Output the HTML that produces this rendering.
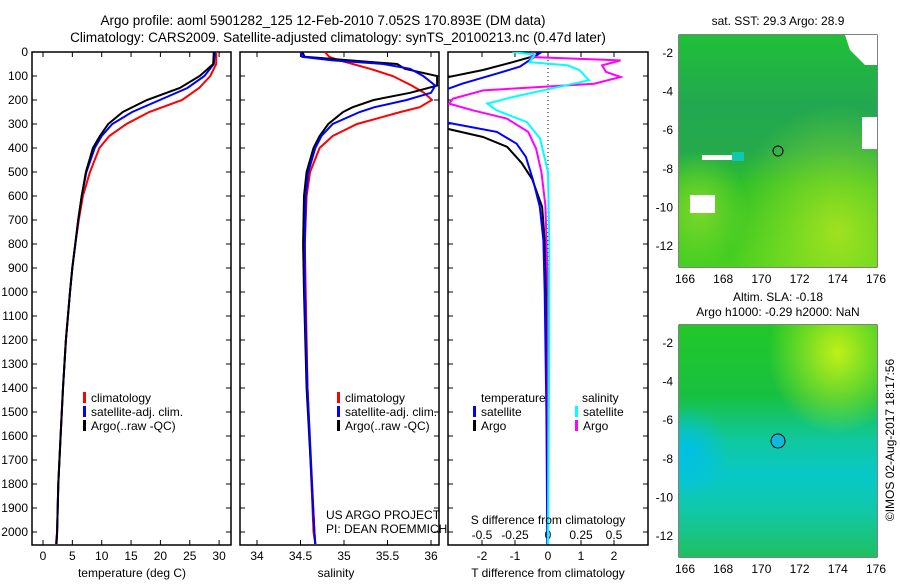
<!DOCTYPE html>
<html><head><meta charset="utf-8"><style>
body{margin:0;background:#fff;}
svg text{font-family:"Liberation Sans",sans-serif;fill:#000;}
</style></head><body>
<svg id="c" width="900" height="580" xmlns="http://www.w3.org/2000/svg">
<defs>
<radialGradient id="g1" cx="0.8" cy="0.85" r="0.55"><stop offset="0" stop-color="#b0e620" stop-opacity="0.85"/><stop offset="1" stop-color="#b0e620" stop-opacity="0"/></radialGradient>
<radialGradient id="g2" cx="0.1" cy="0.75" r="0.25"><stop offset="0" stop-color="#9ee02a" stop-opacity="0.7"/><stop offset="1" stop-color="#9ee02a" stop-opacity="0"/></radialGradient>
<linearGradient id="g3" x1="0" y1="0" x2="0" y2="1"><stop offset="0" stop-color="#20c038"/><stop offset="0.3" stop-color="#22a850"/><stop offset="0.5" stop-color="#24aa4c"/><stop offset="0.65" stop-color="#2cc028"/><stop offset="1" stop-color="#48d020"/></linearGradient>
<linearGradient id="h1" x1="0" y1="0" x2="0" y2="1"><stop offset="0" stop-color="#22c828"/><stop offset="0.3" stop-color="#18c040"/><stop offset="0.5" stop-color="#10c8a0"/><stop offset="0.65" stop-color="#08c8c8"/><stop offset="0.8" stop-color="#10c8a8"/><stop offset="1" stop-color="#20c060"/></linearGradient>
<radialGradient id="h2" cx="0.8" cy="0.12" r="0.35"><stop offset="0" stop-color="#c0f018"/><stop offset="1" stop-color="#c0f018" stop-opacity="0"/></radialGradient>
<radialGradient id="h3" cx="0.05" cy="0.55" r="0.2"><stop offset="0" stop-color="#00c0e8"/><stop offset="1" stop-color="#00c0e8" stop-opacity="0"/></radialGradient>
</defs>
<text x="323" y="25" font-size="13.5" text-anchor="middle">Argo profile: aoml 5901282_125 12-Feb-2010 7.052S 170.893E (DM data)</text>
<text x="338" y="42" font-size="13.5" text-anchor="middle">Climatology: CARS2009. Satellite-adjusted climatology: synTS_20100213.nc (0.47d later)</text>
<g id="p"></g>
<g>
<rect x="679" y="35" width="198" height="232" fill="url(#g3)"/>
<rect x="679" y="35" width="198" height="232" fill="url(#g1)"/>
<rect x="679" y="35" width="198" height="232" fill="url(#g2)"/>
<polygon points="845,35 877,35 877,65 865,65 850,50" fill="#fff"/>
<rect x="862" y="117" width="15" height="32" fill="#fff"/>
<rect x="690" y="195" width="25" height="18" fill="#fff"/>
<rect x="702" y="155" width="30" height="5" fill="#fff"/>
<rect x="732" y="152" width="12" height="9" fill="#10c8b0"/>
<circle cx="778" cy="151" r="5" fill="none" stroke="#000" stroke-width="1"/>
</g>
<text x="778" y="25" font-size="12" text-anchor="middle">sat. SST: 29.3 Argo: 28.9</text>
<g>
<rect x="679" y="325" width="198" height="232" fill="url(#h1)"/>
<rect x="679" y="325" width="198" height="232" fill="url(#h2)"/>
<rect x="679" y="325" width="198" height="232" fill="url(#h3)"/>
<circle cx="778" cy="441" r="7" fill="#10b8e0" stroke="#000" stroke-width="1"/>
</g>
<text x="778" y="301" font-size="12" text-anchor="middle">Altim. SLA: -0.18</text>
<text x="778" y="316" font-size="12" text-anchor="middle">Argo h1000: -0.29 h2000: NaN</text>
<text transform="translate(894,440) rotate(-90)" font-size="12" text-anchor="middle">©IMOS 02-Aug-2017 18:17:56</text>
<text x="326" y="519" font-size="12">US ARGO PROJECT</text>
<text x="326" y="533" font-size="12">PI: DEAN ROEMMICH</text>
<text x="132" y="577" font-size="12" text-anchor="middle">temperature (deg C)</text>
<text x="336" y="577" font-size="12" text-anchor="middle">salinity</text>
<text x="548" y="577" font-size="12" text-anchor="middle">T difference from climatology</text>
<text x="548" y="524" font-size="12" text-anchor="middle">S difference from climatology</text>
</svg>
<script>
const tDepth=[0,50,100,150,200,250,300,350,400,500,600,700,800,900,1000,1200,1400,1600,1800,2000,2050];
const tArgo=[29.1,29.0,26.7,23.3,17.7,13.6,11.1,9.7,8.5,7.3,6.6,6.0,5.5,5.0,4.6,3.9,3.4,3.0,2.6,2.4,2.3];
const tSat=[29.3,29.1,27.5,24.6,19.9,15.2,11.8,10.0,8.8,7.4,6.6,6.0,5.5,5.0,4.6,3.9,3.4,3.0,2.6,2.4,2.3];
const tClim=[29.5,29.5,28.5,26.6,23.7,18.1,14.2,11.3,9.6,8.0,6.8,6.1,5.5,5.0,4.6,3.9,3.4,3.0,2.6,2.4,2.2];
const sDepth=[0,20,35,50,70,100,140,170,200,230,250,300,350,400,500,600,800,1000,1400,2000,2050];
const sArgo=[34.52,34.55,35.07,35.61,35.70,36.07,36.07,35.76,35.34,35.10,34.99,34.82,34.72,34.65,34.57,34.54,34.53,34.54,34.57,34.66,34.67];
const sSat=[34.50,34.52,34.87,35.45,35.76,35.91,36.05,36.00,35.72,35.35,35.18,34.87,34.74,34.67,34.59,34.56,34.55,34.55,34.58,34.66,34.67];
const sClim=[34.78,34.83,34.95,35.10,35.30,35.56,35.78,35.92,36.01,35.87,35.65,35.15,34.87,34.72,34.61,34.57,34.55,34.56,34.58,34.65,34.67];
const dtArgoDepth=[0,20,42,75,112,200,312,354,395,462,530,645,785,1000,1500,2050];
const dtArgo=[-0.24,-0.5,-1.06,-1.97,-3.3,-5,-3.3,-1.97,-1.24,-0.8,-0.48,-0.18,-0.1,-0.05,-0.02,0];
const dtSatDepth=[0,33,61,90,132,167,230,288,333,382,437,535,645,785,1000,1500,2050];
const dtSat=[-0.2,-0.55,-0.85,-1.55,-2.6,-3.3,-5,-3.3,-1.55,-0.95,-0.67,-0.45,-0.25,-0.14,-0.1,-0.05,-0.02];
const dsArgoDepth=[0,21,35,56,83,104,132,160,194,215,243,278,333,403,500,639,1000,2050];
const dsArgo=[-0.11,-0.13,0.55,0.41,0.44,0.55,0.35,-0.49,-0.72,-0.75,-0.57,-0.31,-0.15,-0.09,-0.05,-0.02,0,0];
const dsSatDepth=[0,11,42,56,76,118,153,188,215,243,292,361,500,800,1200,2050];
const dsSat=[-0.27,-0.1,-0.14,0.15,0.24,0.31,0.02,-0.27,-0.46,-0.39,-0.16,-0.06,0,0.01,0.01,0];
const depthTicks=[0,100,200,300,400,500,600,700,800,900,1000,1100,1200,1300,1400,1500,1600,1700,1800,1900,2000];
const tTicks=[0,5,10,15,20,25,30];
const sTicks=[34,34.5,35,35.5,36];
const dtTicks=[-2,-1,0,1,2];
const dsTicks=[-0.5,-0.25,0,0.25,0.5];
const latTicks=[-2,-4,-6,-8,-10,-12];
const lonTicks=[166,168,170,172,174,176];

const NS='http://www.w3.org/2000/svg';
const g=document.getElementById('p');
function mk(t,a,parent){const e=document.createElementNS(NS,t);for(const k in a)e.setAttribute(k,a[k]);(parent||g).appendChild(e);return e;}
const TOP=52,BOT=545;
const yD=d=>TOP+d*0.24;
const xT=v=>43+v*5.87;
const xS=v=>257+(v-34)*87;
const xDT=v=>548+v*33;
const xDS=v=>548+v*132;

const panels=[[32,231,'temperature-panel'],[240,439,'salinity-panel'],[448,648,'difference-panel']];
panels.forEach(([a,b,n],i)=>{
  const cp=mk('clipPath',{id:'cp'+i});mk('rect',{x:a,y:TOP,width:b-a,height:BOT-TOP},cp);
  const r=mk('rect',{x:a,y:TOP,width:b-a,height:BOT-TOP,fill:'none',stroke:'#000','stroke-width':1.5});
  
  
});
depthTicks.forEach(d=>{
  const t=mk('text',{x:28,y:yD(d)+4,'font-size':12,'text-anchor':'end'});t.textContent=d;
  
  
  panels.forEach(([a,b])=>{mk('line',{x1:a,x2:a+5,y1:yD(d),y2:yD(d),stroke:'#000'});mk('line',{x1:b-5,x2:b,y1:yD(d),y2:yD(d),stroke:'#000'});});
});
function xticks(arr,fx,y){
  arr.forEach(v=>{const x=fx(v);
    mk('line',{x1:x,x2:x,y1:BOT-5,y2:BOT,stroke:'#000'});
    mk('line',{x1:x,x2:x,y1:TOP,y2:TOP+5,stroke:'#000'});
    const t=mk('text',{x:x,y:y,'font-size':12,'text-anchor':'middle'});t.textContent=v;
    
    
  });
}
xticks(tTicks,xT,560);
xticks(sTicks,xS,560);
xticks(dtTicks,xDT,560);
dsTicks.forEach(v=>{const t=mk('text',{x:xDS(v),y:539,'font-size':12,'text-anchor':'middle'});t.textContent=v;
  
  });
mk('line',{x1:548,x2:548,y1:TOP,y2:BOT,stroke:'#000','stroke-dasharray':'1,3'});

function line(ds,vs,fx,col,ci,name){
  const pts=ds.map((d,i)=>fx(vs[i]).toFixed(1)+','+yD(d).toFixed(1)).join(' ');
  const p=mk('polyline',{points:pts,fill:'none',stroke:col,'stroke-width':2,'clip-path':'url(#cp'+ci+')'});
  
  
}
line(tDepth,tClim,xT,'#f00',0,'temp-climatology-line');
line(tDepth,tSat,xT,'#00f',0,'temp-satellite-line');
line(tDepth,tArgo,xT,'#000',0,'temp-argo-line');
line(sDepth,sClim,xS,'#f00',1,'sal-climatology-line');
line(sDepth,sArgo,xS,'#000',1,'sal-argo-line');
line(sDepth,sSat,xS,'#00f',1,'sal-satellite-line');
line(dtArgoDepth,dtArgo,xDT,'#000',2,'tdiff-argo-line');
line(dtSatDepth,dtSat,xDT,'#00f',2,'tdiff-satellite-line');
line(dsArgoDepth,dsArgo,xDS,'#f0f',2,'sdiff-argo-line');
line(dsSatDepth,dsSat,xDS,'#0ff',2,'sdiff-satellite-line');

function legend(x,y,col,txt){
  mk('rect',{x:x,y:y-10,width:3,height:11,fill:col});
  const t=mk('text',{x:x+8,y:y,'font-size':12});t.textContent=txt;
  
  
}
[83,337].forEach(x=>{legend(x,402,'#f00','climatology');legend(x,416,'#00f','satellite-adj. clim.');legend(x,430,'#000','Argo(..raw -QC)');});
let t=mk('text',{x:481,y:402,'font-size':12});t.textContent='temperature';


t=mk('text',{x:582,y:402,'font-size':12});t.textContent='salinity';


legend(473,416,'#00f','satellite');legend(473,430,'#000','Argo');
legend(575,416,'#0ff','satellite');legend(575,430,'#f0f','Argo');

[[35,267,53],[325,557,343]].forEach(([y0,y1,ym2])=>{
  const r=mk('rect',{x:679,y:y0,width:198,height:y1-y0,fill:'none',stroke:'#000','stroke-width':1});
  
  
  latTicks.forEach(v=>{const y=ym2+(-2-v)*19.3;
    mk('line',{x1:679,x2:683,y1:y,y2:y,stroke:'#000'});mk('line',{x1:873,x2:877,y1:y,y2:y,stroke:'#000'});
    const tt=mk('text',{x:673,y:y+4,'font-size':12,'text-anchor':'end'});tt.textContent=v;
    
    });
  lonTicks.forEach(v=>{const x=685+(v-166)*19.1;
    mk('line',{x1:x,x2:x,y1:y0,y2:y0+4,stroke:'#000'});mk('line',{x1:x,x2:x,y1:y1-4,y2:y1,stroke:'#000'});
    const tt=mk('text',{x:x,y:y1+16,'font-size':12,'text-anchor':'middle'});tt.textContent=v;
    
    });
});
</script>
</body></html>
